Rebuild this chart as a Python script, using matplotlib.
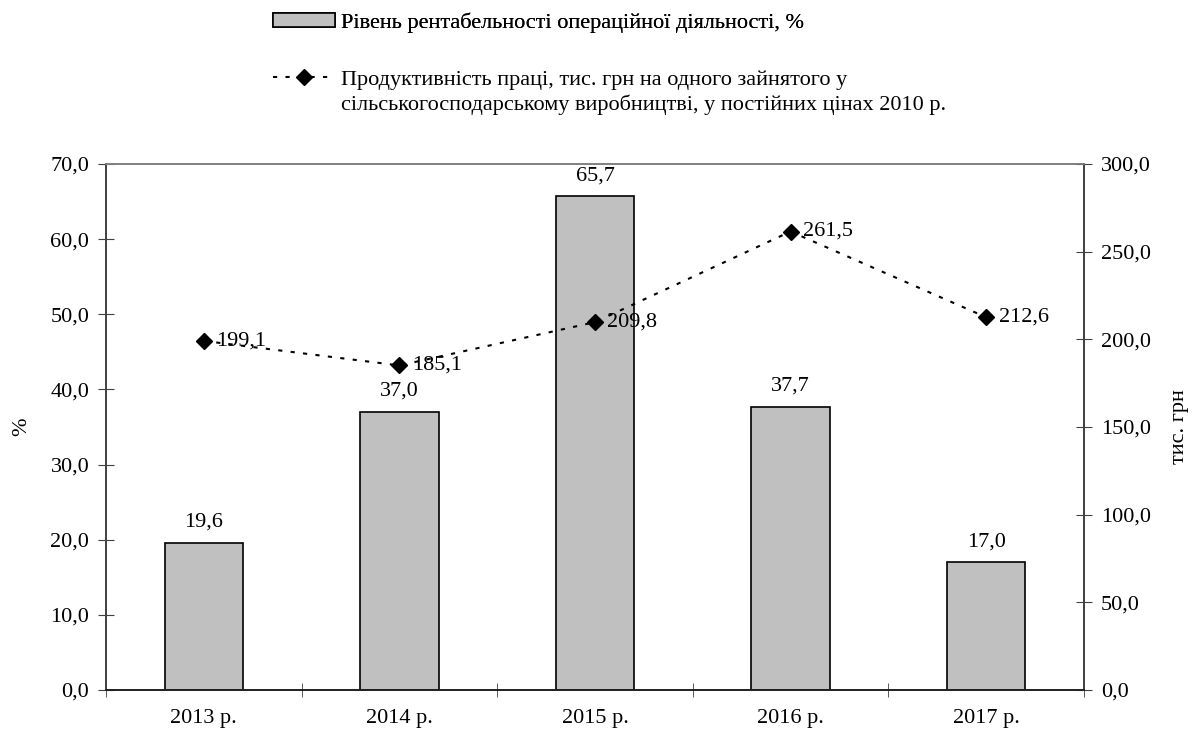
import numpy as np
import matplotlib.pyplot as plt
from matplotlib.lines import Line2D
from matplotlib.patches import Patch
from matplotlib.ticker import FuncFormatter, FixedLocator

plt.rcParams['font.family'] = ['Liberation Serif', 'DejaVu Serif']
plt.rcParams['font.size'] = 16

# --- data ---
years = ['2013 р.', '2014 р.', '2015 р.', '2016 р.', '2017 р.']
profitability = [19.6, 37.0, 65.7, 37.7, 17.0]      # %
productivity = [199.1, 185.1, 209.8, 261.5, 212.6]  # тис. грн

label_bar = 'Рівень рентабельності операційної діяльності, %'
label_line_1 = 'Продуктивність праці, тис. грн на одного зайнятого у'
label_line_2 = 'сільськогосподарському виробництві, у постійних цінах 2010 р.'

def comma(v, pos=None):
    return f'{v:.1f}'.replace('.', ',')

fig = plt.figure(figsize=(11.97, 7.38), dpi=100)
ax = fig.add_axes([106 / 1197, 1 - 690 / 738, (1084 - 106) / 1197, (690 - 164) / 738])
ax2 = ax.twinx()

x = np.arange(len(years))
ax.bar(x, profitability, width=0.4, color='#c0c0c0', edgecolor='black', linewidth=1.2, zorder=2)
for xi, v in zip(x, profitability):
    ax.annotate(comma(v), (xi, v), xytext=(0, 8), textcoords='offset points',
                ha='center', va='bottom')

ax2.plot(x, productivity, color='black', linestyle=(0, (2, 4)), linewidth=1.5,
         marker='D', markersize=8, zorder=3)
for xi, v in zip(x, productivity):
    ax2.annotate(comma(v), (xi, v), xytext=(9, 0), textcoords='offset points',
                 ha='left', va='center')

ax.set_xlim(-0.5, len(years) - 0.5)
ax.set_ylim(0, 70)
ax2.set_ylim(0, 300)
ax.set_yticks(np.arange(0, 71, 10))
ax2.set_yticks(np.arange(0, 301, 50))
ax.yaxis.set_major_formatter(FuncFormatter(comma))
ax2.yaxis.set_major_formatter(FuncFormatter(comma))

ax.set_xticks(x)
ax.set_xticklabels(years)
ax.tick_params(axis='x', which='major', length=0, pad=14)
ax.xaxis.set_minor_locator(FixedLocator(np.arange(-0.5, len(years), 1.0)))
ax.tick_params(axis='x', which='minor', direction='inout', length=10, color='#404040')
ax.tick_params(axis='y', direction='inout', length=12, color='#404040', pad=6)
ax2.tick_params(axis='y', direction='inout', length=12, color='#404040', pad=6)

for a in (ax, ax2):
    a.spines['left'].set_color('#404040')
    a.spines['right'].set_color('#404040')
    a.spines['bottom'].set_color('#202020')
    a.spines['top'].set_color('#808080')
    for s in a.spines.values():
        s.set_linewidth(1.2)

ax.set_ylabel('%', labelpad=14)
ax2.set_ylabel('тис. грн', labelpad=14)

# --- legend ---
h_bar = Patch(facecolor='#c0c0c0', edgecolor='black', linewidth=1.2)
h_line = Line2D([], [], color='black', linestyle=(0, (2, 4)), linewidth=1.5,
                marker='D', markersize=8)
h_blank = Line2D([], [], color='none')

leg1 = fig.legend([h_bar], [label_bar], loc='upper left', bbox_to_anchor=(257 / 1197, 1 + 3 / 738),
                  frameon=False, handlelength=2.8, handleheight=0.55, handletextpad=0.3,
                  borderaxespad=0.3)
leg2 = fig.legend([h_line, h_blank], [label_line_1, label_line_2], loc='upper left',
                  bbox_to_anchor=(257 / 1197, 1 - 54 / 738), frameon=False,
                  handlelength=2.8, handletextpad=0.3, labelspacing=0.2, borderaxespad=0.3)
fig.add_artist(leg1)

fig.savefig('out.png', dpi=100)
